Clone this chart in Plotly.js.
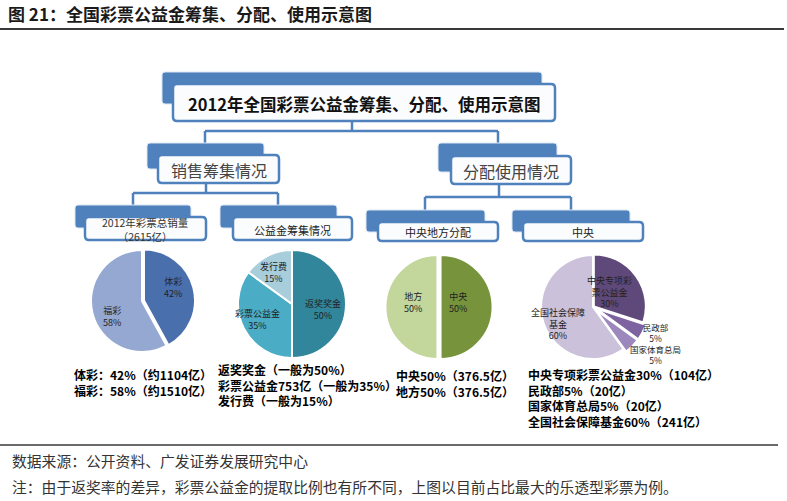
<!DOCTYPE html>
<html>
<head>
<meta charset="utf-8">
<script src="https://cdn.plot.ly/plotly-3.0.1.min.js"></script>
<style>
  html, body { margin: 0; padding: 0; background: #fff; }
  #chart { width: 787px; height: 501px; }
</style>
</head>
<body>
<div id="chart"></div>
<script>
// 销售筹集情况
var salesLabels = ['体彩', '福彩'];
var salesShares = [42, 58];
var salesAmounts = [1104, 1510];
var salesTotal = 2615;

// 公益金筹集情况
var fundLabels = ['返奖奖金', '彩票公益金', '发行费'];
var fundShares = [50, 35, 15];
var fundAmount = 753;

// 中央地方分配
var splitLabels = ['中央', '地方'];
var splitShares = [50, 50];
var splitAmounts = [376.5, 376.5];

// 中央
var centralLabels = ['中央专项彩票公益金', '民政部', '国家体育总局', '全国社会保障基金'];
var centralShort = ['中央专项彩<br>票公益金', '民政部', '国家体育总局', '全国社会保障<br>基金'];
var centralShares = [30, 5, 5, 60];
var centralAmounts = [104, 20, 20, 241];

var W = 787, H = 501;
var BLUE = '#4F81BD';
var CJK = '"Noto Sans CJK SC", "Noto Sans", sans-serif';

function px(x) { return x / W; }
function py(y) { return 1 - y / H; }

function rrect(x0, y0, x1, y1, r) {
  var p = function (x, y) { return px(x) + ',' + py(y); };
  return 'M' + p(x0 + r, y0) + ' L' + p(x1 - r, y0) + ' Q' + p(x1, y0) + ' ' + p(x1, y0 + r) +
    ' L' + p(x1, y1 - r) + ' Q' + p(x1, y1) + ' ' + p(x1 - r, y1) +
    ' L' + p(x0 + r, y1) + ' Q' + p(x0, y1) + ' ' + p(x0, y1 - r) +
    ' L' + p(x0, y0 + r) + ' Q' + p(x0, y0) + ' ' + p(x0 + r, y0) + ' Z';
}

var shapes = [];
var annotations = [];

function line(x0, y0, x1, y1, color, width) {
  shapes.push({type: 'line', xref: 'paper', yref: 'paper',
    x0: px(x0), y0: py(y0), x1: px(x1), y1: py(y1),
    line: {color: color, width: width}});
}

function text(str, x, y, size, opts) {
  opts = opts || {};
  annotations.push({xref: 'paper', yref: 'paper', x: px(x), y: py(y),
    xanchor: opts.anchor || 'center', yanchor: 'middle', align: opts.align || 'center',
    showarrow: false, text: str,
    font: {family: CJK, size: size, color: opts.color || '#222'}});
}

// box = back tab + front card
function node(back, front, label, size, opts) {
  shapes.push({type: 'path', xref: 'paper', yref: 'paper', path: rrect(back[0], back[1], back[2], back[3], 3),
    fillcolor: BLUE, line: {color: '#DCE6F2', width: 1}});
  shapes.push({type: 'path', xref: 'paper', yref: 'paper', path: rrect(front[0], front[1], front[2], front[3], 4),
    fillcolor: '#FBFCFE', line: {color: BLUE, width: 2.5}});
  text(label, (front[0] + front[2]) / 2, (front[1] + front[3]) / 2 + 1, size, opts);
}

// connectors
line(352, 121, 352, 131, BLUE, 2.5);
line(205, 131, 498, 131, BLUE, 2.5);
line(205, 131, 205, 144, BLUE, 2.5);
line(498, 131, 498, 144, BLUE, 2.5);
line(206, 182, 206, 193, BLUE, 2.5);
line(133, 193, 278, 193, BLUE, 2.5);
line(133, 193, 133, 206, BLUE, 2.5);
line(278, 193, 278, 206, BLUE, 2.5);
line(499, 184, 499, 197, BLUE, 2.5);
line(425, 197, 571, 197, BLUE, 2.5);
line(425, 197, 425, 211, BLUE, 2.5);
line(571, 197, 571, 211, BLUE, 2.5);

node([162, 72, 542, 104], [173, 84, 555, 121], '<b>2012年全国彩票公益金筹集、分配、使用示意图</b>', 16.5, {color: '#111'});
node([147, 143, 264, 169], [158, 155, 279, 183], '销售筹集情况', 16, {color: '#444'});
node([438, 143, 557, 172], [451, 156, 571, 184], '分配使用情况', 16, {color: '#444'});
node([75, 205, 191, 228], [85, 217, 206, 240], '2012年彩票总销量<br>（' + salesTotal + '亿）', 10.5, {color: '#333'});
node([220, 205, 337, 228], [233, 217, 352, 240], '公益金筹集情况', 11, {color: '#222'});
node([366, 210, 485, 232], [378, 222, 498, 241], '中央地方分配', 11, {color: '#222'});
node([512, 210, 630, 232], [523, 222, 643, 241], '中央', 11, {color: '#222'});

function pieTrace(labels, values, colors, cx, cy, r, pull) {
  var h = r * (1 + Math.max.apply(null, pull));
  return {type: 'pie', labels: labels, values: values, sort: false, direction: 'clockwise', rotation: 0,
    pull: pull, textinfo: 'none', hoverinfo: 'label+percent', showlegend: false,
    marker: {colors: colors, line: {color: '#fff', width: 2}},
    domain: {x: [px(cx - h), px(cx + h)], y: [py(cy + h), py(cy - h)]}};
}

var data = [
  pieTrace(salesLabels, salesShares, ['#4A6FAD', '#95A8D2'], 142, 301, 51, [0.04, 0]),
  pieTrace(fundLabels, fundShares, ['#31869B', '#4BACC6', '#A8CEDC'], 292, 304, 54, [0, 0, 0]),
  pieTrace(splitLabels, splitShares, ['#77933C', '#C3D69B'], 439, 307, 52, [0.03, 0.03]),
  pieTrace(centralLabels, centralShares, ['#5F497A', '#7E63A1', '#9C88BD', '#CCC1DA'], 593, 307, 52, [0.02, 0.07, 0.07, 0])
];

// slice labels
function pct(label, v) { return label + '<br>' + v + '%'; }
text(pct(salesLabels[0], salesShares[0]), 173, 287, 9);
text(pct(salesLabels[1], salesShares[1]), 112, 316, 9);
text(pct(fundLabels[0], fundShares[0]), 323, 309, 9);
text(pct(fundLabels[1], fundShares[1]), 257, 319, 9);
text(pct(fundLabels[2], fundShares[2]), 273, 272, 9);
text(pct(splitLabels[0], splitShares[0]), 458, 302, 9);
text(pct(splitLabels[1], splitShares[1]), 413, 302, 9);
text(pct(centralShort[0], centralShares[0]), 609, 292, 9);
text(pct(centralShort[3], centralShares[3]), 558, 324, 9);
// the two small slices are labelled outside, stacked
text(pct(centralShort[1], centralShares[1]) + '<br>' + pct(centralShort[2], centralShares[2]), 655, 343, 8.5);

// notes under the pies
var B = {anchor: 'left', align: 'left', color: '#000'};
text('<b>' + salesLabels.map(function (l, i) {
  return l + '：' + salesShares[i] + '%（约' + salesAmounts[i] + '亿）';
}).join('<br>') + '</b>', 72, 382, 12, B);
text('<b>' + fundLabels.map(function (l, i) {
  return l + (i === 1 ? fundAmount + '亿' : '') + '（一般为' + fundShares[i] + '%）';
}).join('<br>') + '</b>', 216, 385, 12, B);
text('<b>' + splitLabels.map(function (l, i) {
  return l + splitShares[i] + '%（' + splitAmounts[i] + '亿）';
}).join('<br>') + '</b>', 394, 383, 12, B);
text('<b>' + centralLabels.map(function (l, i) {
  return l + centralShares[i] + '%（' + centralAmounts[i] + '亿）';
}).join('<br>') + '</b>', 526, 398, 12, B);

// header and footer
text('<b>图 21：全国彩票公益金筹集、分配、使用示意图</b>', 6, 14, 17, {anchor: 'left', color: '#1a1a1a'});
line(0, 29, 784, 29, '#3a3a3a', 2);
line(0, 445, 778, 445, '#3a3a3a', 1.5);
text('数据来源：公开资料、广发证券发展研究中心', 10, 460, 14.8, {anchor: 'left', color: '#333'});
text('注：由于返奖率的差异，彩票公益金的提取比例也有所不同，上图以目前占比最大的乐透型彩票为例。', 10, 486, 14.8, {anchor: 'left', color: '#333'});

var layout = {
  width: W, height: H,
  margin: {l: 0, r: 0, t: 0, b: 0},
  paper_bgcolor: '#fff',
  plot_bgcolor: '#fff',
  showlegend: false,
  shapes: shapes,
  annotations: annotations
};

Plotly.newPlot('chart', data, layout, {staticPlot: true, displayModeBar: false});
</script>
</body>
</html>
